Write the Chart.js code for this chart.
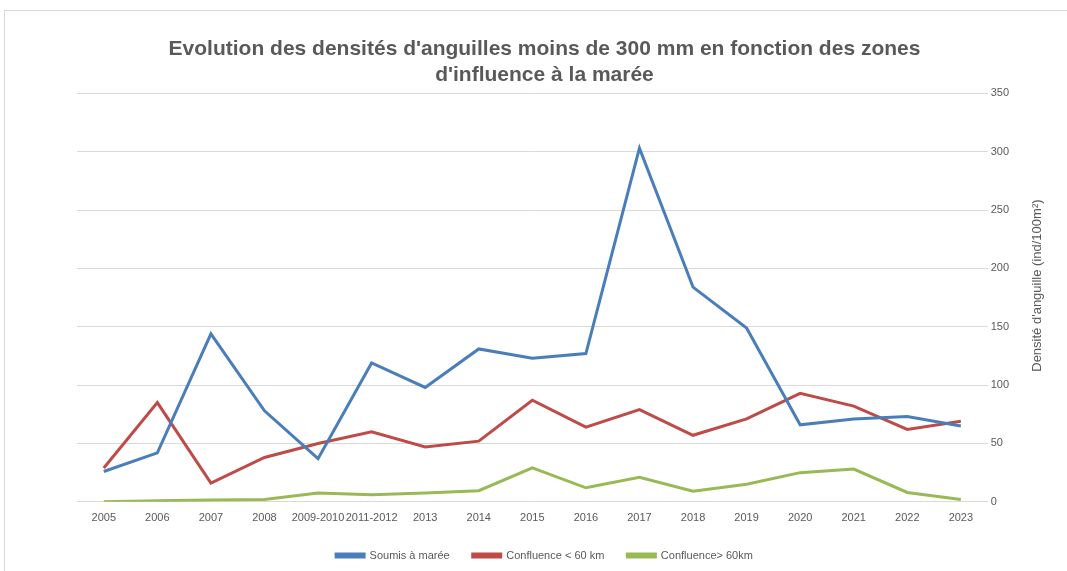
<!DOCTYPE html>
<html>
<head>
<meta charset="utf-8">
<script src="https://cdn.jsdelivr.net/npm/chart.js@4/dist/chart.umd.min.js"></script>
<style>
  html, body { margin: 0; padding: 0; background: #fff; }
  #frame { position: absolute; left: 4px; top: 10px; right: -2px; bottom: -2px; border: 1px solid #d9d9d9; }
  #wrap { position: absolute; left: 0; top: 0; width: 1067px; height: 571px; }
</style>
</head>
<body>
<div id="frame"></div>
<div id="wrap"><canvas id="chart" width="1067" height="571"></canvas></div>
<script>
const years = ['2005', '2006', '2007', '2008', '2009-2010', '2011-2012', '2013', '2014', '2015',
  '2016', '2017', '2018', '2019', '2020', '2021', '2022', '2023'];
const soumisMaree = [26, 42, 144, 78, 37, 119, 98, 131, 123, 127, 303, 184, 149, 66, 71, 73, 65];
const confluenceMoins60 = [29, 85, 16, 38, 50, 60, 47, 52, 87, 64, 79, 57, 71, 93, 82, 62, 69];
const confluencePlus60 = [0, 1, 1.5, 2, 7.5, 6, 7.5, 9.5, 29, 12, 21, 9, 15, 25, 28, 8, 2];
const yTitle = "Densité d'anguille (ind/100m²)";

const grey = '#595959';

function serie(label, data, color) {
  return {
    label: label,
    data: data,
    borderColor: color,
    backgroundColor: color,
    borderWidth: 3,
    pointRadius: 0,
    tension: 0,
    fill: false
  };
}

// titre de l'axe droit, lu de bas en haut comme dans Excel
const yTitlePlugin = {
  id: 'yTitle',
  afterDraw(chart) {
    const ctx = chart.ctx;
    const area = chart.chartArea;
    ctx.save();
    ctx.translate(chart.width - 30, (area.top + area.bottom) / 2 - 12);
    ctx.rotate(-Math.PI / 2);
    ctx.fillStyle = grey;
    ctx.font = '13px "Liberation Sans"';
    ctx.textAlign = 'center';
    ctx.textBaseline = 'middle';
    ctx.fillText(yTitle, 0, 0);
    ctx.restore();
  }
};

new Chart(document.getElementById('chart'), {
  type: 'line',
  data: {
    labels: years,
    datasets: [
      serie('Soumis à marée', soumisMaree, '#4a7ebb'),
      serie('Confluence < 60 km', confluenceMoins60, '#be4b48'),
      serie('Confluence> 60km', confluencePlus60, '#98b954')
    ]
  },
  plugins: [yTitlePlugin],
  options: {
    responsive: false,
    animation: false,
    layout: { padding: { left: 77, right: 55, top: 37, bottom: 0 } },
    plugins: {
      title: {
        display: true,
        text: ["Evolution des densités d'anguilles moins de 300 mm en fonction des zones", "d'influence à la marée"],
        color: grey,
        font: { family: 'Liberation Sans', size: 21, weight: 'bold' },
        lineHeight: 1.45,
        padding: { top: 0, bottom: 6 }
      },
      legend: {
        position: 'bottom',
        labels: {
          color: grey,
          font: { family: 'Liberation Sans', size: 11 },
          boxWidth: 28,
          boxHeight: 3,
          padding: 23
        }
      },
      tooltip: { enabled: false }
    },
    scales: {
      x: {
        offset: true,
        grid: { display: false },
        border: { display: false },
        ticks: { color: grey, font: { family: 'Liberation Sans', size: 11 }, maxRotation: 0, autoSkip: false, padding: 2 }
      },
      y: {
        position: 'right',
        min: 0,
        max: 350,
        ticks: { stepSize: 50, color: grey, font: { family: 'Liberation Sans', size: 11 }, padding: 3 },
        grid: { color: '#d9d9d9', lineWidth: 1, drawTicks: false },
        border: { display: false }
      }
    }
  }
});
</script>
</body>
</html>
